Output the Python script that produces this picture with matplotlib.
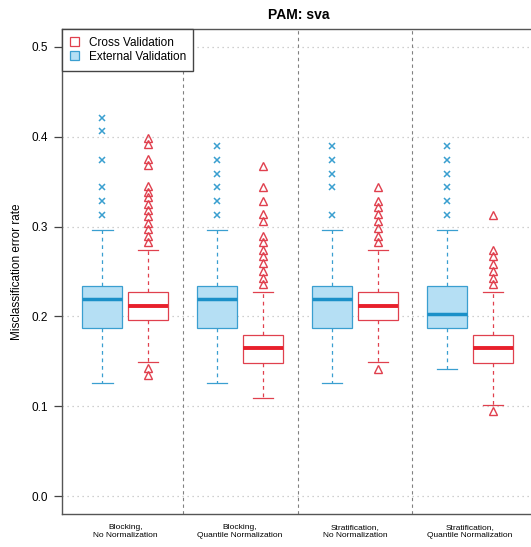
import matplotlib.pyplot as plt
from matplotlib.patches import Patch

plt.rcParams["font.family"] = ["Liberation Sans", "DejaVu Sans"]

groups = ["Blocking,\nNo Normalization", "Blocking,\nQuantile Normalization",
          "Stratification,\nNo Normalization", "Stratification,\nQuantile Normalization"]

# External validation box stats (per group)
ext_q1 = [0.1874, 0.1874, 0.1874, 0.1874]
ext_med = [0.2193, 0.2193, 0.2193, 0.2030]
ext_q3 = [0.2344, 0.2344, 0.2344, 0.2344]
ext_lo = [0.1256, 0.1256, 0.1256, 0.1415]
ext_hi = [0.2963, 0.2963, 0.2963, 0.2963]
ext_out = [
    [0.421, 0.406, 0.374, 0.344, 0.328, 0.3126],
    [0.390, 0.374, 0.359, 0.344, 0.328, 0.3126],
    [0.390, 0.374, 0.359, 0.344, 0.3126],
    [0.390, 0.374, 0.359, 0.344, 0.328, 0.3126],
]

# Cross validation box stats (per group)
cv_q1 = [0.1963, 0.1485, 0.1963, 0.1485]
cv_med = [0.2115, 0.1648, 0.2115, 0.1648]
cv_q3 = [0.2274, 0.1796, 0.2274, 0.1796]
cv_lo = [0.1490, 0.1096, 0.1490, 0.1015]
cv_hi = [0.2740, 0.2270, 0.2740, 0.2270]
cv_out = [
    [0.3985, 0.392, 0.3756, 0.369, 0.3448, 0.339, 0.3326, 0.3256, 0.3189,
     0.3115, 0.304, 0.2974, 0.290, 0.2826, 0.143, 0.1344],
    [0.3678, 0.344, 0.329, 0.314, 0.306, 0.290, 0.2826, 0.2744, 0.267,
     0.2596, 0.251, 0.243, 0.2356],
    [0.344, 0.329, 0.322, 0.314, 0.306, 0.2985, 0.290, 0.2826, 0.142],
    [0.3133, 0.2744, 0.267, 0.2585, 0.251, 0.243, 0.2356, 0.0948],
]

BLUE = "#3a9fd0"
BLUE_FILL = "#b5dff4"
BLUE_MED = "#1b90c8"
RED = "#e0404e"
RED_MED = "#e8202c"


def stats(q1, med, q3, lo, hi, out):
    return [dict(q1=a, med=b, q3=c, whislo=d, whishi=e, fliers=f)
            for a, b, c, d, e, f in zip(q1, med, q3, lo, hi, out)]


fig = plt.figure(figsize=(5.31, 5.47), dpi=100)
ax = fig.add_axes([62 / 531, 33 / 547, 473 / 531, 485 / 547])

step = 2.5
pos_ext = [1 + step * i for i in range(len(groups))]
pos_cv = [2 + step * i for i in range(len(groups))]

# grid and separators
for v in [0.0, 0.1, 0.2, 0.3, 0.4, 0.5]:
    ax.axhline(v, color="#c0c0c0", lw=0.9, ls=(0, (1, 3)), zorder=0)
for i in range(1, len(groups)):
    ax.axvline(2.75 + step * (i - 1), color="#808080", lw=0.8, ls=(0, (3, 3)), zorder=0)

ax.bxp(stats(ext_q1, ext_med, ext_q3, ext_lo, ext_hi, ext_out), positions=pos_ext,
       widths=0.87, patch_artist=True,
       boxprops=dict(facecolor=BLUE_FILL, edgecolor=BLUE, lw=0.9),
       medianprops=dict(color=BLUE_MED, lw=2.5, solid_capstyle="butt"),
       whiskerprops=dict(color=BLUE, lw=0.9, ls=(0, (3, 3))),
       capprops=dict(color=BLUE, lw=0.9), capwidths=0.44,
       flierprops=dict(marker="x", markeredgecolor=BLUE, markersize=4.5, mew=1.1))

ax.bxp(stats(cv_q1, cv_med, cv_q3, cv_lo, cv_hi, cv_out), positions=pos_cv,
       widths=0.87, patch_artist=True,
       boxprops=dict(facecolor="white", edgecolor=RED, lw=0.9),
       medianprops=dict(color=RED_MED, lw=2.8, solid_capstyle="butt"),
       whiskerprops=dict(color=RED, lw=0.9, ls=(0, (3, 3))),
       capprops=dict(color=RED, lw=0.9), capwidths=0.44,
       flierprops=dict(marker="^", markerfacecolor="none", markeredgecolor=RED,
                       markersize=6, mew=1.0))

ax.set_xlim(0.12, 10.42)
ax.set_ylim(-0.02, 0.52)
ax.set_xticks([(a + b) / 2 for a, b in zip(pos_ext, pos_cv)])
ax.set_xticklabels(groups, fontsize=6, linespacing=1.3)
ax.tick_params(axis="x", length=0, pad=7)
ax.set_yticks([0.0, 0.1, 0.2, 0.3, 0.4, 0.5])
ax.set_yticklabels(["0.0", "0.1", "0.2", "0.3", "0.4", "0.5"], fontsize=8.5)
ax.tick_params(axis="y", length=6, width=0.9, color="#444444", pad=4)
ax.set_ylabel("Misclassification error rate", fontsize=8.5, labelpad=6)
ax.set_title("PAM: sva", fontsize=10, fontweight="bold", pad=7)

for s in ax.spines.values():
    s.set_color("#555555")
    s.set_linewidth(1.0)

handles = [Patch(facecolor="white", edgecolor=RED, lw=0.9),
           Patch(facecolor=BLUE_FILL, edgecolor=BLUE, lw=0.9)]
leg = ax.legend(handles, ["Cross Validation", "External Validation"], loc="upper left",
                bbox_to_anchor=(0, 1), borderaxespad=0, fontsize=8.5, fancybox=False,
                framealpha=1, edgecolor="#444444", handlelength=0.8, handleheight=0.8,
                handletextpad=0.8, labelspacing=0.2, borderpad=0.65)
leg.get_frame().set_linewidth(1.0)

fig.savefig("out.png", dpi=100)
